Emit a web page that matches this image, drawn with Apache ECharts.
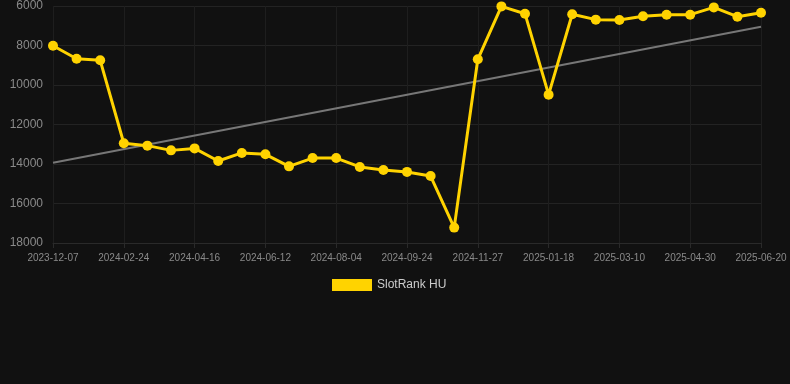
<!DOCTYPE html>
<html><head><meta charset="utf-8">
<script src="https://cdn.jsdelivr.net/npm/echarts@6/dist/echarts.min.js"></script>
<style>html,body{margin:0;padding:0;background:#111111;}#c{width:790px;height:384px;}</style>
</head><body><div id="c"></div>
<script>
const categories = ['2023-12-07','2024-01-03','2024-01-30','2024-02-24','2024-03-13','2024-03-30','2024-04-16','2024-05-05','2024-05-24','2024-06-12','2024-06-29','2024-07-17','2024-08-04','2024-08-21','2024-09-07','2024-09-24','2024-10-15','2024-11-05','2024-11-27','2024-12-14','2024-12-31','2025-01-18','2025-02-04','2025-02-21','2025-03-10','2025-03-27','2025-04-13','2025-04-30','2025-05-17','2025-06-03','2025-06-20'];
const rankValues = [8010,8670,8750,12950,13070,13310,13210,13850,13440,13510,14120,13700,13700,14150,14300,14400,14610,17220,8700,6020,6390,10490,6420,6690,6710,6520,6440,6440,6070,6540,6340];
const trendStart = 13940;
const trendEnd = 7050;
const seriesName = 'SlotRank HU';

const trendData = categories.map((c, i) => i === 0 ? trendStart : (i === categories.length - 1 ? trendEnd : null));

const chart = echarts.init(document.getElementById('c'));
chart.setOption({
  backgroundColor: '#111111',
  animation: false,
  grid: {left: 53, right: 29, top: 6, bottom: 141},
  legend: {
    data: [seriesName],
    top: 274,
    left: 327,
    icon: 'rect',
    itemWidth: 40,
    itemHeight: 12,
    itemGap: 10,
    textStyle: {color: '#cccccc', fontSize: 12, fontFamily: 'Liberation Sans, Arial, sans-serif'}
  },
  xAxis: {
    type: 'category',
    data: categories,
    boundaryGap: false,
    axisLine: {lineStyle: {color: '#2a2a2a'}},
    axisTick: {show: true, interval: 2, lineStyle: {color: '#2a2a2a'}},
    axisLabel: {interval: 2, color: '#8a8a8a', fontSize: 10, margin: 10, fontFamily: 'Liberation Sans, Arial, sans-serif'},
    splitLine: {show: true, interval: 2, lineStyle: {color: '#1e1e1e'}}
  },
  yAxis: {
    type: 'value',
    inverse: true,
    min: 6000,
    max: 18000,
    interval: 2000,
    axisLine: {show: false},
    axisTick: {show: false},
    axisLabel: {color: '#8a8a8a', fontSize: 12, margin: 10, formatter: v => String(v), fontFamily: 'Liberation Sans, Arial, sans-serif'},
    splitLine: {lineStyle: {color: '#232323'}}
  },
  series: [
    {
      name: 'trend',
      type: 'line',
      data: trendData,
      connectNulls: true,
      showSymbol: false,
      symbol: 'none',
      lineStyle: {color: '#777777', width: 2},
      z: 1,
      silent: true
    },
    {
      name: seriesName,
      type: 'line',
      data: rankValues,
      symbol: 'circle',
      symbolSize: 10,
      itemStyle: {color: '#FFD300'},
      lineStyle: {color: '#FFD300', width: 3},
      z: 3
    }
  ]
});
</script>
</body></html>
